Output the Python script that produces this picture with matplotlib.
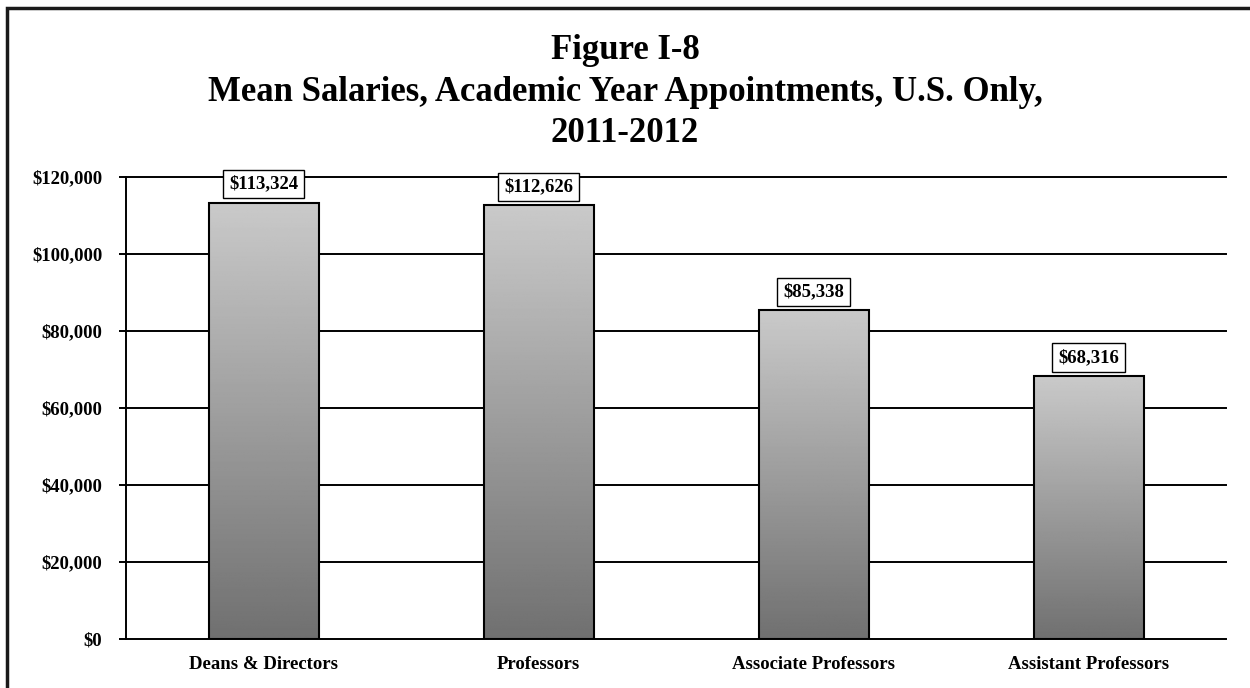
import numpy as np
import matplotlib.pyplot as plt
from matplotlib.patches import Rectangle

categories = ['Deans & Directors', 'Professors', 'Associate Professors', 'Assistant Professors']
salaries = [113324, 112626, 85338, 68316]
yticks = [0, 20000, 40000, 60000, 80000, 100000, 120000]

plt.rcParams['font.family'] = ['Liberation Serif', 'DejaVu Serif']
plt.rcParams['font.weight'] = 'bold'

fig = plt.figure(figsize=(12.5, 6.88), dpi=100)
ax = fig.add_axes([0.1008, 0.0712, 0.8800, 0.6715])

# frame around the whole figure (only top and left visible in the original)
fig.patches.append(Rectangle((7 / 1250, -0.1), 1.2, 1 - 8 / 688 + 0.1,
                             transform=fig.transFigure, fill=False,
                             edgecolor='#1a1a1a', linewidth=2.5))

x = np.arange(len(categories))
width = 0.40
ax.set_xlim(-0.5, len(categories) - 0.5)
ax.set_ylim(0, 120000)

for yv in yticks:
    ax.axhline(yv, color='black', linewidth=1.4, zorder=1, clip_on=False)

# vertical gray gradient for each bar
grad = np.linspace(0.79, 0.44, 256).reshape(-1, 1)
for xi, val in zip(x, salaries):
    bar = ax.bar(xi, val, width=width, color='none', edgecolor='black',
                 linewidth=1.5, zorder=3)[0]
    im = ax.imshow(grad, cmap='gray', vmin=0, vmax=1, aspect='auto',
                   extent=[xi - width / 2, xi + width / 2, 0, val],
                   origin='upper', zorder=2)
    im.set_clip_path(bar)
    ax.text(xi, val + 2600, f'${val:,}', ha='center', va='bottom',
            fontsize=13.5, fontweight='bold',
            bbox=dict(facecolor='white', edgecolor='black', linewidth=1.0,
                      boxstyle='square,pad=0.3'), zorder=4)

ax.set_xticks(x)
ax.set_xticklabels(categories, fontsize=13.5, fontweight='bold')
ax.set_yticks(yticks)
ax.set_yticklabels([f'${v:,}' for v in yticks], fontsize=13.5, fontweight='bold')
ax.tick_params(axis='x', length=0, pad=12)
ax.tick_params(axis='y', length=5, width=1.4, pad=12, direction='out')

for side in ['top', 'right', 'bottom']:
    ax.spines[side].set_visible(False)
ax.spines['left'].set_linewidth(1.4)

fig.text(0.5, 0.926, 'Figure I-8', ha='center', va='center', fontsize=25, fontweight='bold')
fig.text(0.5, 0.866, 'Mean Salaries, Academic Year Appointments, U.S. Only,',
         ha='center', va='center', fontsize=25, fontweight='bold')
fig.text(0.5, 0.806, '2011-2012', ha='center', va='center', fontsize=25, fontweight='bold')

fig.savefig('out.png', dpi=100)
